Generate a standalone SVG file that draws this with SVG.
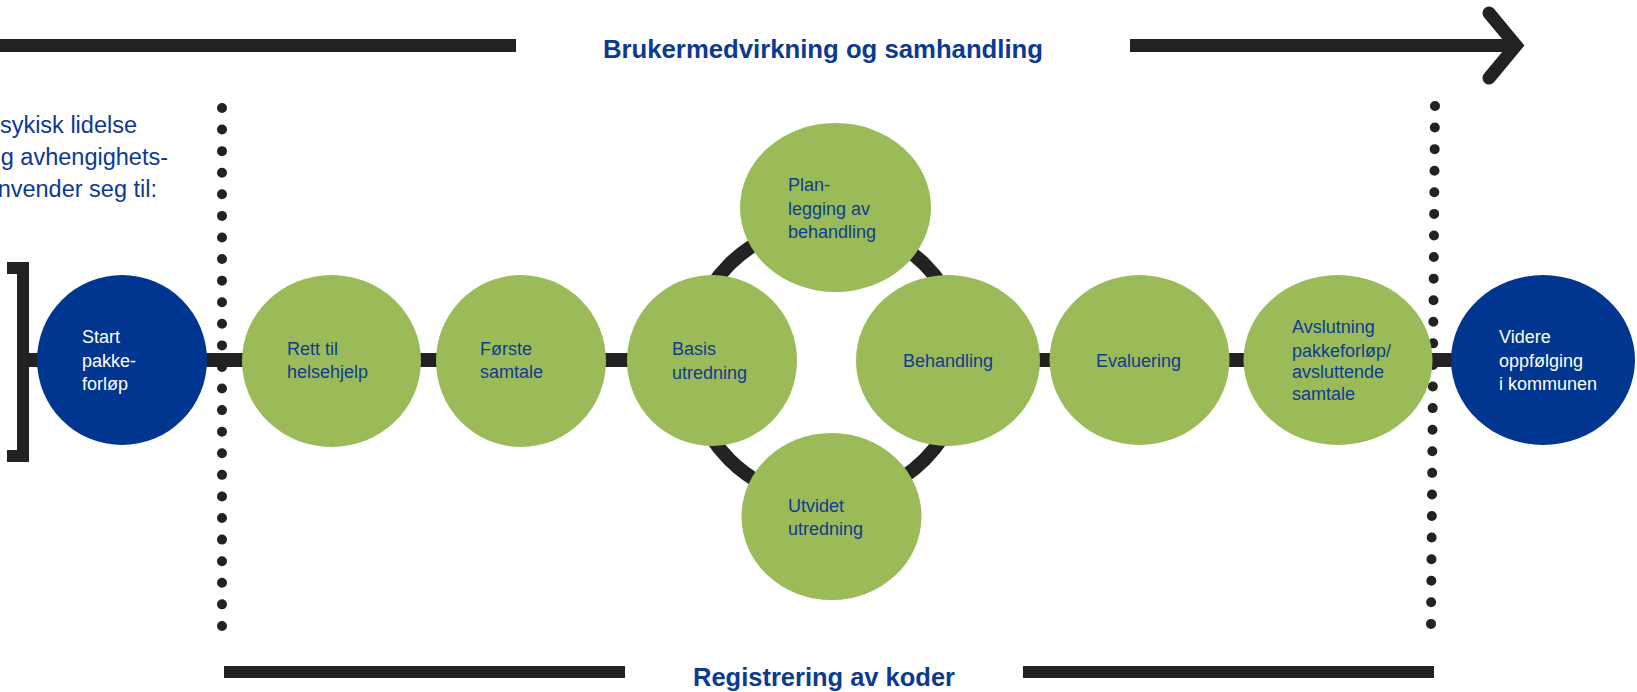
<svg xmlns="http://www.w3.org/2000/svg" width="1637" height="692" viewBox="0 0 1637 692">
  <style>
    .green { fill: #9BBB59; }
    .navy { fill: #00368F; }
    .lbl { font-family: "Liberation Sans", Arial, sans-serif; font-size: 18px; fill: #0F3C8E; }
    .wlbl { font-family: "Liberation Sans", Arial, sans-serif; font-size: 18px; fill: #FFFFFF; }
    .head { font-family: "Liberation Sans", Arial, sans-serif; font-size: 26px; font-weight: bold; fill: #0B3A91; }
    .side { font-family: "Liberation Sans", Arial, sans-serif; font-size: 23.5px; fill: #0B3A91; }
    .bar { fill: #222222; }
    .conn { stroke: #222222; stroke-width: 14; fill: none; }
    .dots { stroke: #222222; stroke-width: 10; stroke-linecap: round; stroke-dasharray: 0 21.58; fill: none; }
  </style>

  <g id="top-arrow">
    <rect class="bar" x="0" y="39" width="516" height="13"/>
    <line x1="1130" y1="45.5" x2="1516" y2="45.5" stroke="#222222" stroke-width="13"/>
    <polyline points="1489,13 1516,45.5 1489,78" fill="none" stroke="#222222" stroke-width="13" stroke-linecap="round" stroke-linejoin="miter"/>
  </g>
  <text class="head" x="603" y="58" textLength="440" lengthAdjust="spacingAndGlyphs">Brukermedvirkning og samhandling</text>

  <g id="side-text">
    <text class="side" x="137" y="133" text-anchor="end">sykisk lidelse</text>
    <text class="side" x="168" y="165" text-anchor="end">g avhengighets-</text>
    <text class="side" x="157" y="197" text-anchor="end">nvender seg til:</text>
  </g>

  <g id="dotted-lines">
    <line class="dots" x1="222" y1="108" x2="222" y2="626"/>
    <line class="dots" x1="1435" y1="106" x2="1431" y2="624"/>
  </g>

  <g id="bottom-bars">
    <rect class="bar" x="224" y="666" width="401" height="12"/>
    <rect class="bar" x="1023" y="666" width="411" height="12"/>
  </g>
  <text class="head" x="693" y="686" textLength="262" lengthAdjust="spacingAndGlyphs">Registrering av koder</text>

  <g id="connectors">
    <path class="bar" d="M7,262 H29 V462 H7 V450 H17 V274 H7 Z"/>
    <line class="conn" x1="29" y1="360" x2="712" y2="360"/>
    <line class="conn" x1="948" y1="360" x2="1545" y2="360"/>
    <circle class="conn" cx="827" cy="362" r="138"/>
  </g>

  <g id="node-start">
    <ellipse class="navy" cx="122" cy="360" rx="85" ry="85"/>
    <text class="wlbl" x="82" y="343">Start</text>
    <text class="wlbl" x="82" y="367">pakke-</text>
    <text class="wlbl" x="82" y="390">forløp</text>
  </g>
  <g id="node-rett">
    <ellipse class="green" cx="331.5" cy="361" rx="89.5" ry="86"/>
    <text class="lbl" x="287" y="355">Rett til</text>
    <text class="lbl" x="287" y="378">helsehjelp</text>
  </g>
  <g id="node-forste">
    <ellipse class="green" cx="521" cy="361" rx="85" ry="86"/>
    <text class="lbl" x="480" y="355">Første</text>
    <text class="lbl" x="480" y="378">samtale</text>
  </g>
  <g id="node-basis">
    <ellipse class="green" cx="712" cy="360.5" rx="85" ry="85.5"/>
    <text class="lbl" x="672" y="355">Basis</text>
    <text class="lbl" x="672" y="379">utredning</text>
  </g>
  <g id="node-planlegging">
    <ellipse class="green" cx="835.5" cy="207.5" rx="95.5" ry="84.5"/>
    <text class="lbl" x="788" y="191">Plan-</text>
    <text class="lbl" x="788" y="215">legging av</text>
    <text class="lbl" x="788" y="238">behandling</text>
  </g>
  <g id="node-behandling">
    <ellipse class="green" cx="948" cy="360.5" rx="92" ry="85.5"/>
    <text class="lbl" x="903" y="367">Behandling</text>
  </g>
  <g id="node-utvidet">
    <ellipse class="green" cx="831.5" cy="516.5" rx="90" ry="83.5"/>
    <text class="lbl" x="788" y="512">Utvidet</text>
    <text class="lbl" x="788" y="535">utredning</text>
  </g>
  <g id="node-evaluering">
    <ellipse class="green" cx="1139.5" cy="360" rx="90" ry="85"/>
    <text class="lbl" x="1096" y="367">Evaluering</text>
  </g>
  <g id="node-avslutning">
    <ellipse class="green" cx="1338" cy="360" rx="94.5" ry="85"/>
    <text class="lbl" x="1292" y="333">Avslutning</text>
    <text class="lbl" x="1292" y="357">pakkeforløp/</text>
    <text class="lbl" x="1292" y="378">avsluttende</text>
    <text class="lbl" x="1292" y="400">samtale</text>
  </g>
  <g id="node-videre">
    <ellipse class="navy" cx="1543" cy="360" rx="92" ry="85"/>
    <text class="wlbl" x="1499" y="343">Videre</text>
    <text class="wlbl" x="1499" y="367">oppfølging</text>
    <text class="wlbl" x="1499" y="390">i kommunen</text>
  </g>
</svg>
